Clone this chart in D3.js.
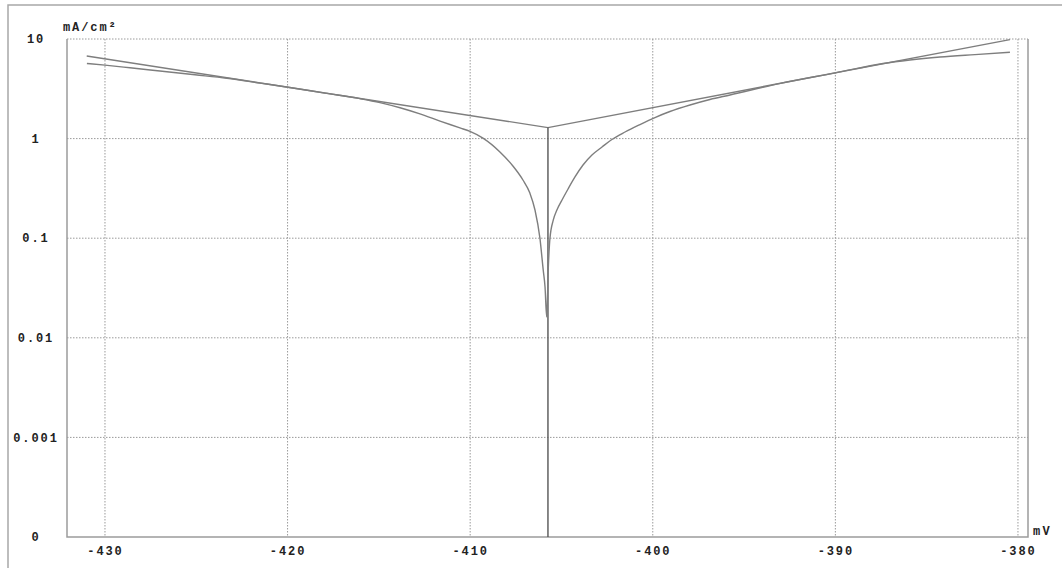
<!DOCTYPE html>
<html>
<head>
<meta charset="utf-8">
<script src="https://cdn.jsdelivr.net/npm/d3@7/dist/d3.min.js"></script>
<style>
  html, body { margin: 0; padding: 0; background: #fff; }
  svg text { font-family: "Liberation Mono", "DejaVu Sans Mono", monospace; font-weight: bold; }
</style>
</head>
<body>
<div id="chart"></div>
<script>
(function(){
  'use strict';

  // tick values and labels
  var xTicks = [-430, -420, -410, -400, -390, -380],
      yTicks = [1e-4, 1e-3, 1e-2, 1e-1, 1, 10],
      yTickLabels = ['0', '0.001', '0.01', '0.1', '1', '10'];

  // measured polarisation curve (mV, mA/cm2)
  var potential = [-430.99, -430.0, -428.63, -426.99, -425.07, -423.32, -421.51, -419.87, -417.95,
                   -416.04, -414.94, -413.84, -412.75, -411.65, -410.56, -410.01, -409.3, -408.37,
                   -407.66, -407.11, -406.73, -406.45, -406.18, -406.0, -405.9, -405.81,
                   -405.72, -405.63, -405.45, -405.25, -404.97, -404.64, -404.26, -403.82, -403.33,
                   -402.78, -402.24, -401.52, -400.7, -399.88, -399.06, -397.96, -396.87, -395.77,
                   -393.0, -390.0, -387.39, -385.92, -384.27, -382.36, -380.44];
  var current = [5.68, 5.46, 5.14, 4.77, 4.37, 4.03, 3.61, 3.26, 2.86,
                 2.52, 2.30, 2.04, 1.77, 1.50, 1.28, 1.18, 1.01, 0.734,
                 0.531, 0.384, 0.284, 0.192, 0.100, 0.048, 0.0324, 0.0162,
                 0.0514, 0.100, 0.152, 0.192, 0.242, 0.312, 0.412, 0.543, 0.684,
                 0.823, 0.979, 1.165, 1.385, 1.628, 1.871, 2.175, 2.470, 2.741,
                 3.59, 4.57, 5.68, 6.16, 6.59, 6.97, 7.35];

  // Tafel fit lines and corrosion point
  var tafelPotential = [-431.0, -405.74, -380.44],
      tafelCurrent = [6.75, 1.29, 9.86],
      ecorrPotential = [-405.74, -405.74],
      ecorrCurrent = [1.29, 1e-4];

  var w = 1062,
      h = 568,
      left = 67, right = 1028, top = 39, bottom = 537;

  var svg = d3.select('#chart').append('svg')
    .attr('width', w)
    .attr('height', h);

  // outer frame
  svg.append('rect')
    .attr('x', 8).attr('y', 5)
    .attr('width', 1070).attr('height', 580)
    .style('fill', 'none')
    .style('stroke', '#a8a8a8')
    .style('stroke-width', 1.5);

  var x = d3.scaleLinear()
      .domain([-432.08, -379.45])
      .range([left, right]),

      y = d3.scaleLog()
      .domain([1e-4, 10])
      .range([bottom, top]);

  // grid
  svg.append('g').attr('class', 'grid')
    .selectAll('line')
    .data(xTicks)
    .enter().append('line')
    .attr('x1', function(d){ return x(d); })
    .attr('x2', function(d){ return x(d); })
    .attr('y1', top).attr('y2', bottom)
    .style('stroke', '#9a9a9a')
    .style('stroke-dasharray', '1.5,1.5');

  svg.append('g').attr('class', 'grid')
    .selectAll('line')
    .data(yTicks.slice(1))
    .enter().append('line')
    .attr('y1', function(d){ return y(d); })
    .attr('y2', function(d){ return y(d); })
    .attr('x1', left).attr('x2', right)
    .style('stroke', '#9a9a9a')
    .style('stroke-dasharray', '1.5,1.5');

  // plot borders (left, bottom, right solid)
  svg.append('path')
    .attr('d', 'M' + left + ',' + top + 'V' + bottom + 'H' + right + 'V' + top)
    .style('fill', 'none')
    .style('stroke', '#9c9c9c')
    .style('stroke-width', 1.5);

  // axes labels
  var xAxis = d3.axisBottom(x)
      .tickValues(xTicks)
      .tickSize(0)
      .tickPadding(9)
      .tickFormat(function(d){ return String(d); });

  var gx = svg.append('g')
    .attr('transform', 'translate(0,' + bottom + ')')
    .call(xAxis);
  gx.select('.domain').remove();
  gx.selectAll('text')
    .attr('fill', '#222')
    .style('font-size', '12px')
    .style('letter-spacing', '1.9px')
    .style('font-family', '"Liberation Mono", monospace')
    .style('font-weight', 'bold');

  svg.append('g').selectAll('text')
    .data(yTicks)
    .enter().append('text')
    .attr('x', 36)
    .attr('y', function(d){ return y(d); })
    .attr('dy', '0.35em')
    .attr('text-anchor', 'middle')
    .attr('fill', '#222')
    .style('font-size', '12px')
    .style('letter-spacing', '1.9px')
    .text(function(d, i){ return yTickLabels[i]; });

  svg.append('text')
    .attr('x', 63).attr('y', 31)
    .attr('fill', '#222')
    .style('font-size', '12px')
    .style('letter-spacing', '1.9px')
    .text('mA/cm\u00b2');

  svg.append('text')
    .attr('x', 1033).attr('y', 535)
    .attr('fill', '#222')
    .style('font-size', '12px')
    .style('letter-spacing', '2.4px')
    .text('mV');

  // lines
  var line = d3.line()
      .x(function(d){ return x(d[0]); })
      .y(function(d){ return y(d[1]); });

  var measured = d3.zip(potential, current),
      tafel = d3.zip(tafelPotential, tafelCurrent),
      ecorr = d3.zip(ecorrPotential, ecorrCurrent);

  svg.append('path')
    .datum(tafel)
    .attr('d', line)
    .style('fill', 'none')
    .style('stroke', '#7e7e7e')
    .style('stroke-width', 1.4);

  svg.append('path')
    .datum(ecorr)
    .attr('d', line)
    .style('fill', 'none')
    .style('stroke', '#555')
    .style('stroke-width', 1.4);

  svg.append('path')
    .datum(measured)
    .attr('d', line.curve(d3.curveMonotoneX))
    .style('fill', 'none')
    .style('stroke', '#7e7e7e')
    .style('stroke-width', 1.4);

}());
</script>
</body>
</html>
